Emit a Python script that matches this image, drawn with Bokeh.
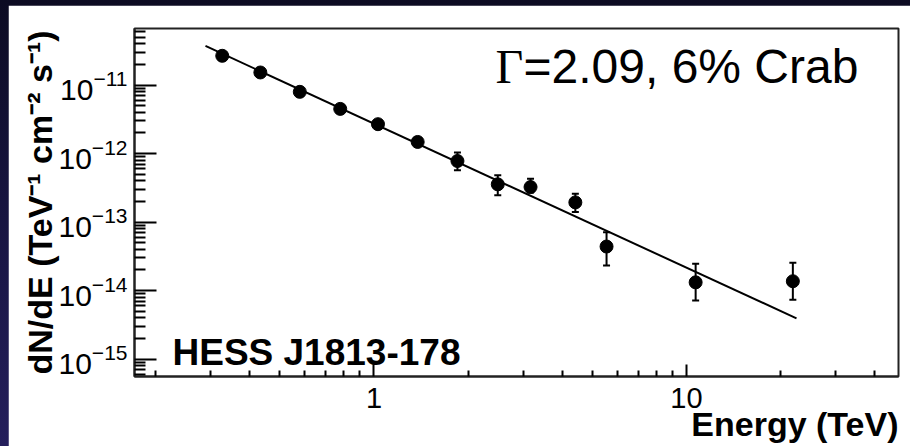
from bokeh.plotting import figure
from bokeh.models import (ColumnDataSource, Range1d, FixedTicker, Label, Whisker, Title,
                          TeeHead, CustomJSTickFormatter, LogTickFormatter)
from bokeh.layouts import column
from bokeh.embed import file_html
from bokeh.resources import INLINE

# ---- data ----
energy = [0.327, 0.433, 0.579, 0.780, 1.03, 1.38, 1.85, 2.49, 3.17, 4.41, 5.55, 10.7, 21.9]
flux = [2.68e-11, 1.53e-11, 7.98e-12, 4.50e-12, 2.69e-12, 1.48e-12, 7.80e-13,
        3.56e-13, 3.25e-13, 1.94e-13, 4.40e-14, 1.32e-14, 1.37e-14]
flux_hi = [2.85e-11, 1.63e-11, 8.6e-12, 4.9e-12, 2.95e-12, 1.65e-12, 1.035e-12,
           4.82e-13, 4.31e-13, 2.60e-13, 7.13e-14, 2.46e-14, 2.54e-14]
flux_lo = [2.5e-11, 1.43e-11, 7.4e-12, 4.1e-12, 2.45e-12, 1.32e-12, 5.70e-13,
           2.46e-13, 2.7e-13, 1.40e-13, 2.32e-14, 7.14e-15, 7.38e-15]
fit_energy = [0.289, 22.5]
fit_flux = [3.73e-11, 3.93e-15]

x_major = [1, 10]
x_minor = [0.2, 0.3, 0.4, 0.5, 0.6, 0.7, 0.8, 0.9, 2, 3, 4, 5, 6, 7, 8, 9, 20, 30, 40]
y_exponents = [-15, -14, -13, -12, -11]
y_minor = [m * 10.0 ** e for e in range(-16, -10) for m in range(2, 10)]

x_lim = (0.1713, 47.7)
y_lim = (5.57e-16, 6.71e-11)

annotation = "=2.09, 6% Crab"
source_name = "HESS J1813-178"
x_title = "Energy (TeV)"
y_title = "dN/dE (TeV\u207b\u00b9 cm\u207b\u00b2 s\u207b\u00b9)"

SANS = "Liberation Sans"

p = figure(width=902, height=441, x_axis_type="log", y_axis_type="log",
           x_range=Range1d(*x_lim), y_range=Range1d(*y_lim),
           output_backend="svg", toolbar_location=None,
           min_border_left=126, min_border_right=12, min_border_top=23, min_border_bottom=70,
           background_fill_color="white", border_fill_color="white")
p.margin = (5, 0, 0, 8)
p.xgrid.visible = False
p.ygrid.visible = False
p.outline_line_color = "#222222"
p.outline_line_width = 2

xa = p.xaxis[0]
xa.ticker = FixedTicker(ticks=x_major, minor_ticks=x_minor)
xa.formatter = CustomJSTickFormatter(code="return tick.toFixed(0)")
xa.major_tick_in = 12
xa.major_tick_out = 0
xa.minor_tick_in = 6
xa.minor_tick_out = 0
xa.axis_line_color = "#222222"
xa.axis_line_width = 2
xa.major_tick_line_width = 2
xa.minor_tick_line_width = 2
xa.major_label_text_font = SANS
xa.major_label_text_font_size = "29px"
xa.major_label_text_color = "black"
xa.major_label_standoff = 11

p.add_layout(Title(text=x_title, align="right", text_font=SANS, text_font_size="34px",
                   text_font_style="bold", text_color="black", standoff=-16), "below")

ya = p.yaxis[0]
ya.ticker = FixedTicker(ticks=[10.0 ** e for e in y_exponents], minor_ticks=y_minor)
ya.formatter = LogTickFormatter()
ya.major_tick_in = 22
ya.major_tick_out = 0
ya.minor_tick_in = 11
ya.minor_tick_out = 0
ya.axis_line_color = "#222222"
ya.axis_line_width = 2
ya.major_tick_line_width = 2
ya.minor_tick_line_width = 2
ya.major_label_text_font = SANS
ya.major_label_text_font_size = "30px"
ya.major_label_text_color = "black"
ya.major_label_standoff = 7
ya.axis_label = y_title
ya.axis_label_text_font = SANS
ya.axis_label_text_font_size = "34px"
ya.axis_label_text_font_style = "bold"
ya.axis_label_text_color = "black"
ya.axis_label_standoff = -3

src = ColumnDataSource(dict(x=energy, y=flux, hi=flux_hi, lo=flux_lo))

p.line(fit_energy, fit_flux, line_color="black", line_width=2)
p.add_layout(Whisker(source=src, base="x", upper="hi", lower="lo", dimension="height",
                     line_color="black", line_width=2,
                     upper_head=TeeHead(size=7, line_width=2, line_color="black"),
                     lower_head=TeeHead(size=7, line_width=2, line_color="black")))
p.scatter("x", "y", source=src, size=13, fill_color="black", line_color="black")


def lab(text, x, y, dx, dy, size, bold=False, font=SANS, align="left"):
    p.add_layout(Label(x=x, y=y, x_offset=dx, y_offset=dy, text=text,
                       text_font=font, text_font_size=size,
                       text_font_style="bold" if bold else "normal",
                       text_color="black", text_align=align,
                       text_baseline="alphabetic"))


lab("\u0393", x_lim[0], y_lim[1], 361, -37.5, "48px", font="Liberation Serif")
lab(annotation, x_lim[0], y_lim[1], 389, -37.5, "48px")
lab(source_name, x_lim[0], y_lim[0], 38, 24, "37px", bold=True)

layout = column(p, styles={"background": "linear-gradient(180deg, #0c0b22 0%, #17143f 45%, #251f5c 100%)"})

open("out.html", "w").write(file_html(layout, INLINE))
